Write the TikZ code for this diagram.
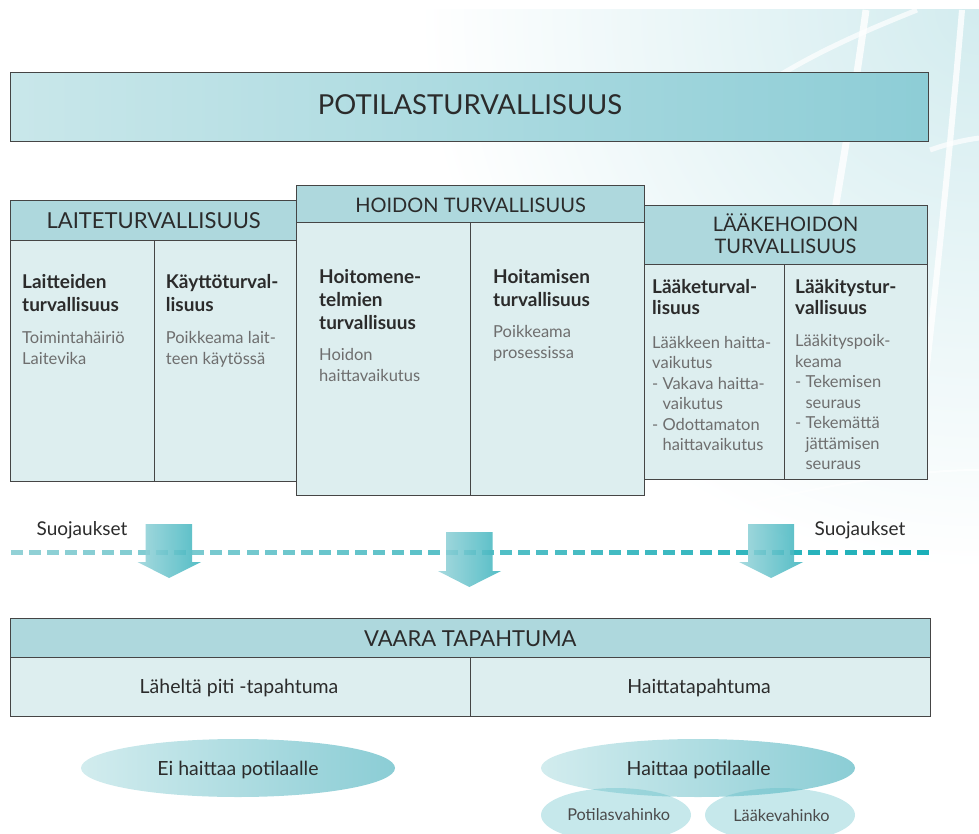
\documentclass[tikz,border=0pt]{standalone}
\usepackage{fontspec}
\setmainfont{Lato}
\usetikzlibrary{shapes.geometric}
\definecolor{hdr}{HTML}{AED8DD}
\definecolor{bodyc}{HTML}{DDEEEF}
\definecolor{edge}{HTML}{454545}
\definecolor{ink}{HTML}{2B2B2B}
\definecolor{greytxt}{HTML}{6E6E6E}
\definecolor{tealA}{HTML}{C9E7EA}
\definecolor{tealB}{HTML}{8DCDD6}
\definecolor{arrA}{HTML}{9AD4DA}
\definecolor{arrB}{HTML}{3DB4BE}
\definecolor{dashA}{HTML}{92D1D6}
\definecolor{dashB}{HTML}{1AAFB8}
\definecolor{bgc}{HTML}{D3ECEF}
\definecolor{ellA}{HTML}{D2ECEE}
\definecolor{ellB}{HTML}{8BCDD5}
\definecolor{smallc}{HTML}{5BBCC6}
\newcommand{\TF}{\rule{0pt}{20pt}}
\tikzset{
  box/.style={draw=edge, line width=1.3pt, inner sep=0pt, anchor=north west},
  hdrbox/.style={box, fill=hdr},
  bodybox/.style={box, fill=bodyc},
  ttl/.style={anchor=north west, inner sep=0pt, align=left, text=ink, font=\fontsize{19}{23}\selectfont\bfseries},
  ttlb/.style={ttl, font=\fontsize{19}{20.8}\selectfont\bfseries},
  txt/.style={anchor=north west, inner sep=0pt, align=left, text=greytxt, font=\fontsize{16.5}{21}\selectfont},
  txtb/.style={txt, font=\fontsize{16.5}{20.5}\selectfont},
  hd/.style={anchor=base, inner sep=0pt, text=ink, font=\fontsize{22}{22}\selectfont, align=center},
  lbl/.style={anchor=base, inner sep=0pt, text=ink, font=\fontsize{19.5}{20}\selectfont},
  bigell/.style={ellipse, inner sep=0pt, minimum width=314pt, minimum height=58pt, left color=ellA, right color=ellB},
  smallell/.style={ellipse, inner sep=0pt, minimum width=150pt, minimum height=54pt, fill=smallc, fill opacity=0.35},
  downarrow/.style={left color=arrA, right color=arrB, fill opacity=0.88},
}
\begin{document}
\begin{tikzpicture}[x=1pt,y=-1pt]
\useasboundingbox (0,0) rectangle (979,834);
% background decoration
\begin{scope}
  \clip (0,10) rectangle (979,834);
  \shade[inner color=bgc, outer color=white] (979,10) circle (560);
  \draw[white, line width=7pt, opacity=0.8] (866,10) .. controls (855,90) and (845,150) .. (835,210);
  \draw[white, line width=6pt, opacity=0.8] (962,10) .. controls (950,150) and (935,300) .. (915,470);
  \draw[white, line width=5pt, opacity=0.7] (917,10) .. controls (880,25) and (830,45) .. (780,75);
  \draw[white, line width=5pt, opacity=0.7] (930,150) .. controls (950,143) and (965,140) .. (979,138);
  \draw[white, line width=2pt, opacity=0.7] (680,520) .. controls (800,490) and (900,470) .. (979,470);
\end{scope}
% top banner
\node[box, left color=tealA, right color=tealB, minimum width=918pt, minimum height=69pt] (banner) at (10,72) {};
\node[anchor=base, inner sep=0pt, text=ink, font=\fontsize{27.5}{30}\selectfont] (bannerT) at (470,115) {POTILASTURVALLISUUS};
% Laiteturvallisuus
\node[hdrbox, minimum width=286pt, minimum height=40pt] (laiteH) at (10,200) {};
\node[bodybox, minimum width=144pt, minimum height=241pt] (laiteA) at (10,240) {};
\node[bodybox, minimum width=142pt, minimum height=241pt] (laiteB) at (154,240) {};
\node[hd] (laiteT) at (153.7,228.3) {LAITETURVALLISUUS};
% Laakehoidon turvallisuus
\node[hdrbox, minimum width=283pt, minimum height=59pt] (laakeH) at (644,205) {};
\node[bodybox, minimum width=140pt, minimum height=215pt] (laakeA) at (644,264) {};
\node[bodybox, minimum width=143pt, minimum height=215pt] (laakeB) at (784,264) {};
\node[hd, anchor=north, font=\fontsize{20}{21.6}\selectfont] (laakeT) at (785.5,211.7) {\TF LÄÄKEHOIDON\\TURVALLISUUS};
% Hoidon turvallisuus
\node[hdrbox, minimum width=348pt, minimum height=37pt] (hoitoH) at (296,185) {};
\node[bodybox, minimum width=174pt, minimum height=273pt] (hoitoA) at (296,222) {};
\node[bodybox, minimum width=174pt, minimum height=273pt] (hoitoB) at (470,222) {};
\node[hd, font=\fontsize{20}{22}\selectfont] (hoitoT) at (470.5,212.3) {HOIDON TURVALLISUUS};
% column texts (node top = first baseline - 20)
\node[ttl] (c1t) at (22,268) {\TF Laitteiden\\turvallisuus};
\node[txt] (c1b) at (22,323) {\TF Toimintahäiriö\\Laitevika};
\node[ttl] (c2t) at (165.7,268) {\TF Käyttöturval-\\lisuus};
\node[txt] (c2b) at (165.7,323) {\TF Poikkeama lait-\\teen käytössä};
\node[ttl] (c3t) at (319,263.3) {\TF Hoitomene-\\telmien\\turvallisuus};
\node[txt] (c3b) at (319,340) {\TF Hoidon\\haittavaikutus};
\node[ttl] (c4t) at (493,263.3) {\TF Hoitamisen\\turvallisuus};
\node[txt] (c4b) at (493,317) {\TF Poikkeama\\prosessissa};
\node[ttlb] (c5t) at (652,273.3) {\TF Lääketurval-\\lisuus};
\node[txtb] (c5b) at (652,328) {\TF Lääkkeen haitta-\\vaikutus\\-\ Vakava haitta-\\\hphantom{-\ }vaikutus\\-\ Odottamaton\\\hphantom{-\ }haittavaikutus};
\node[ttlb] (c6t) at (795,273.3) {\TF Lääkitystur-\\vallisuus};
\node[txtb] (c6b) at (795,326.7) {\TF Lääkityspoik-\\keama\\-\ Tekemisen\\\hphantom{-\ }seuraus\\-\ Tekemättä\\\hphantom{-\ }jättämisen\\\hphantom{-\ }seuraus};
% dashed barrier line
\foreach \i in {0,...,50} {
  \pgfmathsetmacro\p{100*\i/50}
  \fill[dashB!\p!dashA] ({11+\i*18.12},550.3) rectangle ++(12,5);
}
% arrows
\shade[downarrow] (145.6,524) -- (192,524) -- (192,562) -- (201,562) -- (169,578) -- (137.5,562) -- (145.6,562) -- cycle;
\shade[downarrow] (446,532) -- (492.5,532) -- (492.5,571) -- (501,571) -- (469.3,587) -- (438,571) -- (446,571) -- cycle;
\shade[downarrow] (748,524) -- (794,524) -- (794,562) -- (803,562) -- (771,578) -- (739,562) -- (748,562) -- cycle;
\node[lbl, font=\fontsize{19}{20}\selectfont] (suoL) at (82,535) {Suojaukset};
\node[lbl, font=\fontsize{19}{20}\selectfont] (suoR) at (860,535) {Suojaukset};
% vaara tapahtuma
\node[hdrbox, minimum width=920pt, minimum height=39pt] (vaaraH) at (10,618) {};
\node[bodybox, minimum width=460pt, minimum height=59pt] (vaaraA) at (10,657) {};
\node[bodybox, minimum width=460pt, minimum height=59pt] (vaaraB) at (470,657) {};
\node[hd] (vaaraT) at (470.3,646.7) {VAARA TAPAHTUMA};
\node[lbl] (lahe) at (239,693) {Läheltä piti -tapahtuma};
\node[lbl] (haitta) at (699,693) {Haittatapahtuma};
% ellipses
\node[bigell] (eiE) at (238,768) {};
\node[bigell] (hpE) at (698,768) {};
\node[smallell] (pvE) at (616,815) {};
\node[smallell] (lvE) at (780,815) {};
\node[lbl] (eiT) at (238,775) {Ei haittaa potilaalle};
\node[lbl] (hpT) at (698.7,775) {Haittaa potilaalle};
\node[lbl, font=\fontsize{16.3}{17}\selectfont, text=ink!85] (pvT) at (618.7,820.7) {Potilasvahinko};
\node[lbl, font=\fontsize{16.3}{17}\selectfont, text=ink!85] (lvT) at (781.5,821) {Lääkevahinko};
\end{tikzpicture}
\end{document}
